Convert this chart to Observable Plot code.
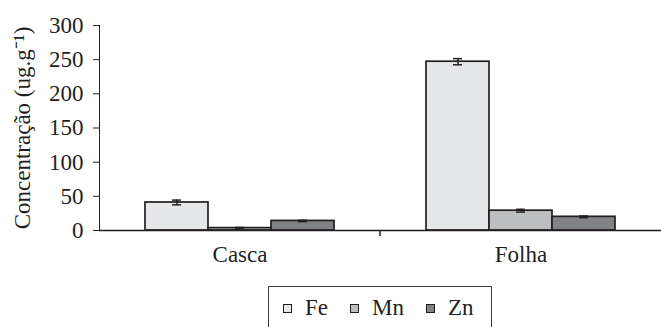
<!DOCTYPE html>
<html>
<head>
<meta charset="utf-8">
<script src="https://cdn.jsdelivr.net/npm/d3@7"></script>
<script src="https://cdn.jsdelivr.net/npm/@observablehq/plot@0.6"></script>
<style>
  body { margin: 0; background: #fff; font-family: "Liberation Serif", serif; color: #231f20; }
  #legend { margin-left: 268px; width: 224px; height: 44px; border: 1.5px solid #3a3a3a; box-sizing: border-box;
            display: flex; align-items: center; font-size: 23px; margin-top: 4px; padding-left: 14px; }
  .item { display: flex; align-items: center; margin-right: 22px; }
  .sw { width: 7px; height: 7px; border: 1px solid #231f20; margin-right: 13px; }
</style>
</head>
<body>
<div id="chart"></div>
<div id="legend"></div>
<script>
const categories = ["Casca", "Folha"];
const elements = ["Fe", "Mn", "Zn"];
const colors = ["#e6e7e8", "#bcbec0", "#808285"];
// values per element, in the order of categories
const feValues = [41, 247];
const mnValues = [3.5, 29];
const znValues = [14, 20];
const feErrors = [3.5, 4.5];
const mnErrors = [1, 2];
const znErrors = [1, 1.2];
const yTicks = [0, 50, 100, 150, 200, 250, 300];

const series = {Fe: [feValues, feErrors], Mn: [mnValues, mnErrors], Zn: [znValues, znErrors]};
const rows = [];
categories.forEach((c, i) => elements.forEach(e => {
  const v = series[e][0][i], err = series[e][1][i];
  rows.push({cat: c, el: e, v, lo: v - err, hi: v + err});
}));

const plot = Plot.plot({
  width: 661,
  height: 282,
  marginLeft: 98,
  marginRight: 0,
  marginTop: 25,
  marginBottom: 52,
  style: {fontFamily: "Liberation Serif, serif", fontSize: "23px", color: "#231f20", background: "white", overflow: "visible"},
  fx: {domain: categories, padding: 0, label: null, tickSize: 0, tickPadding: 15},
  x: {domain: elements, paddingInner: 0, paddingOuter: 0.73, axis: null},
  y: {domain: [0, 300], ticks: yTicks, tickSize: 6, tickPadding: 10, line: true,
      label: "Concentração (ug.g⁻¹)", labelAnchor: "center", labelArrow: "none", labelOffset: 86},
  color: {domain: elements, range: colors},
  marks: [
    Plot.barY(rows, {fx: "cat", x: "el", y: "v", fill: "el", stroke: "#231f20", strokeWidth: 1.7}),
    Plot.ruleY([0], {stroke: "#231f20", strokeWidth: 1.5}),
    Plot.ruleX(rows, {fx: "cat", x: "el", y1: "lo", y2: "hi", stroke: "#231f20", strokeWidth: 1.5}),
    Plot.tickY(rows, {fx: "cat", x: "el", y: "lo", insetLeft: 27, insetRight: 27, stroke: "#231f20", strokeWidth: 1.5}),
    Plot.tickY(rows, {fx: "cat", x: "el", y: "hi", insetLeft: 27, insetRight: 27, stroke: "#231f20", strokeWidth: 1.5})
  ]
});
document.getElementById("chart").appendChild(plot);

// remove any arrow the library might append to the y label
d3.select(plot).selectAll("text").each(function() {
  const t = this.textContent;
  if (t.includes("Concentração")) this.textContent = t.replace(/\s*[↑→]\s*$/, "").replace(/^\s*[↑→]\s*/, "");
});

// divider tick between the two groups, placed with the library's fx and y scales
const fx = plot.scale("fx"), ys = plot.scale("y");
const y0 = ys.apply(0);
categories.slice(1).forEach(c => {
  const xb = fx.apply(c);
  d3.select(plot).append("line")
    .attr("x1", xb).attr("x2", xb).attr("y1", y0).attr("y2", y0 + 6)
    .attr("stroke", "#231f20").attr("stroke-width", 1.5);
});

const legend = document.getElementById("legend");
elements.forEach((e, i) => {
  const it = document.createElement("div");
  it.className = "item";
  it.innerHTML = `<div class="sw" style="background:${colors[i]}"></div><span>${e}</span>`;
  legend.appendChild(it);
});
</script>
</body>
</html>
